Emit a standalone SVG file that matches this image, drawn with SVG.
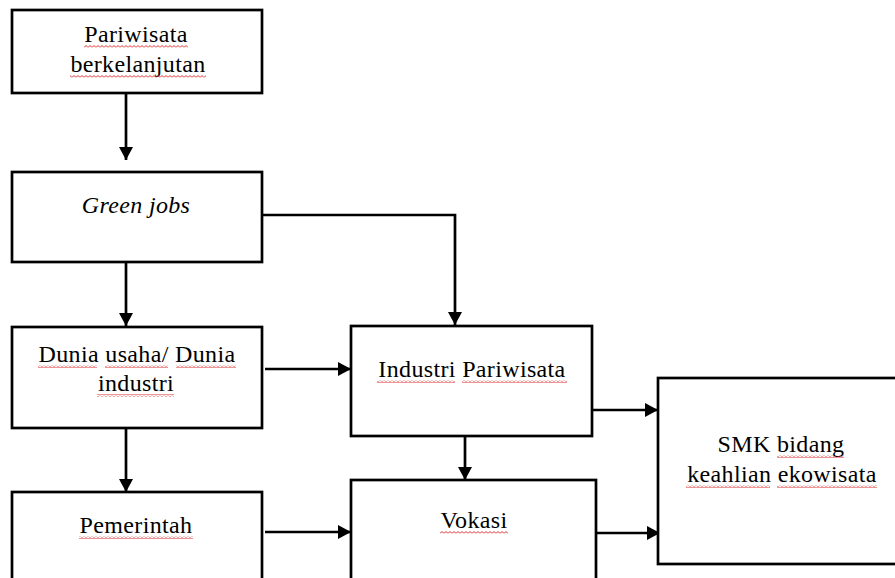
<svg xmlns="http://www.w3.org/2000/svg" width="895" height="578" viewBox="0 0 895 578">
<style>
.box{fill:#fff;stroke:#000;stroke-width:2.7}
.lbl{font-family:"Liberation Serif","Times New Roman",serif;font-size:24px;letter-spacing:0.35px;fill:#000;text-anchor:middle}
.it{font-style:italic}
.con{fill:none;stroke:#000;stroke-width:2.7;marker-end:url(#ah)}
.sq{fill:url(#wave)}
</style>
<defs>
<marker id="ah" markerUnits="userSpaceOnUse" viewBox="0 0 13 14" refX="13" refY="7" markerWidth="13" markerHeight="14" orient="auto">
<path d="M0,0 L13,7 L0,14 Z" fill="#000"/>
</marker>
<pattern id="wave" patternUnits="userSpaceOnUse" x="0" y="0" width="4" height="3">
<path d="M0,2.5 L2,0.5 L4,2.5" fill="none" stroke="#e02a2a" stroke-width="1"/>
</pattern>
</defs>
<rect width="895" height="578" fill="#fff"/>
<g id="connectors">
<path class="con" d="M126,93 L126,160"/>
<path class="con" d="M126,262 L126,326"/>
<path class="con" d="M258,215 L455,215 L455,325"/>
<path class="con" d="M126,428 L126,492"/>
<path class="con" d="M265,369 L351,369"/>
<path class="con" d="M265,532 L351,532"/>
<path class="con" d="M465,436 L465,480"/>
<path class="con" d="M592,410 L658,410"/>
<path class="con" d="M592,533 L660,533"/>
</g>
<g id="pariwisata-berkelanjutan">
<rect class="box" x="12" y="10" width="250" height="83"/>
<text class="lbl" x="136" y="42">Pariwisata</text>
<text class="lbl" x="138" y="72">berkelanjutan</text>
<rect class="sq" x="84" y="45" width="104" height="3"/>
<rect class="sq" x="70" y="75" width="136" height="3"/>
</g>
<g id="green-jobs">
<rect class="box" x="12" y="172" width="250" height="90"/>
<text class="lbl it" x="136" y="213">Green jobs</text>
</g>
<g id="dunia-usaha">
<rect class="box" x="12" y="327" width="250" height="101"/>
<text class="lbl" x="137" y="362">Dunia usaha/ Dunia</text>
<text class="lbl" x="136" y="391">industri</text>
<rect class="sq" x="38" y="365" width="59" height="3"/>
<rect class="sq" x="105" y="365" width="63" height="3"/>
<rect class="sq" x="176" y="365" width="60" height="3"/>
<rect class="sq" x="97" y="394" width="77" height="3"/>
</g>
<g id="industri-pariwisata">
<rect class="box" x="351" y="326" width="241" height="110"/>
<text class="lbl" x="472" y="377">Industri Pariwisata</text>
<rect class="sq" x="377" y="380" width="78" height="3"/>
<rect class="sq" x="462" y="380" width="105" height="3"/>
</g>
<g id="pemerintah">
<rect class="box" x="12" y="492" width="250" height="110"/>
<text class="lbl" x="136" y="533">Pemerintah</text>
<rect class="sq" x="79" y="536" width="114" height="3"/>
</g>
<g id="vokasi">
<rect class="box" x="351" y="480" width="245" height="122"/>
<text class="lbl" x="474" y="528">Vokasi</text>
<rect class="sq" x="440" y="531" width="68" height="3"/>
</g>
<g id="smk">
<rect class="box" x="658" y="378" width="250" height="186"/>
<text class="lbl" x="781" y="452">SMK bidang</text>
<text class="lbl" x="782" y="482">keahlian ekowisata</text>
<rect class="sq" x="777" y="455" width="67" height="3"/>
<rect class="sq" x="686" y="485" width="84" height="3"/>
<rect class="sq" x="777" y="485" width="100" height="3"/>
</g>
</svg>
